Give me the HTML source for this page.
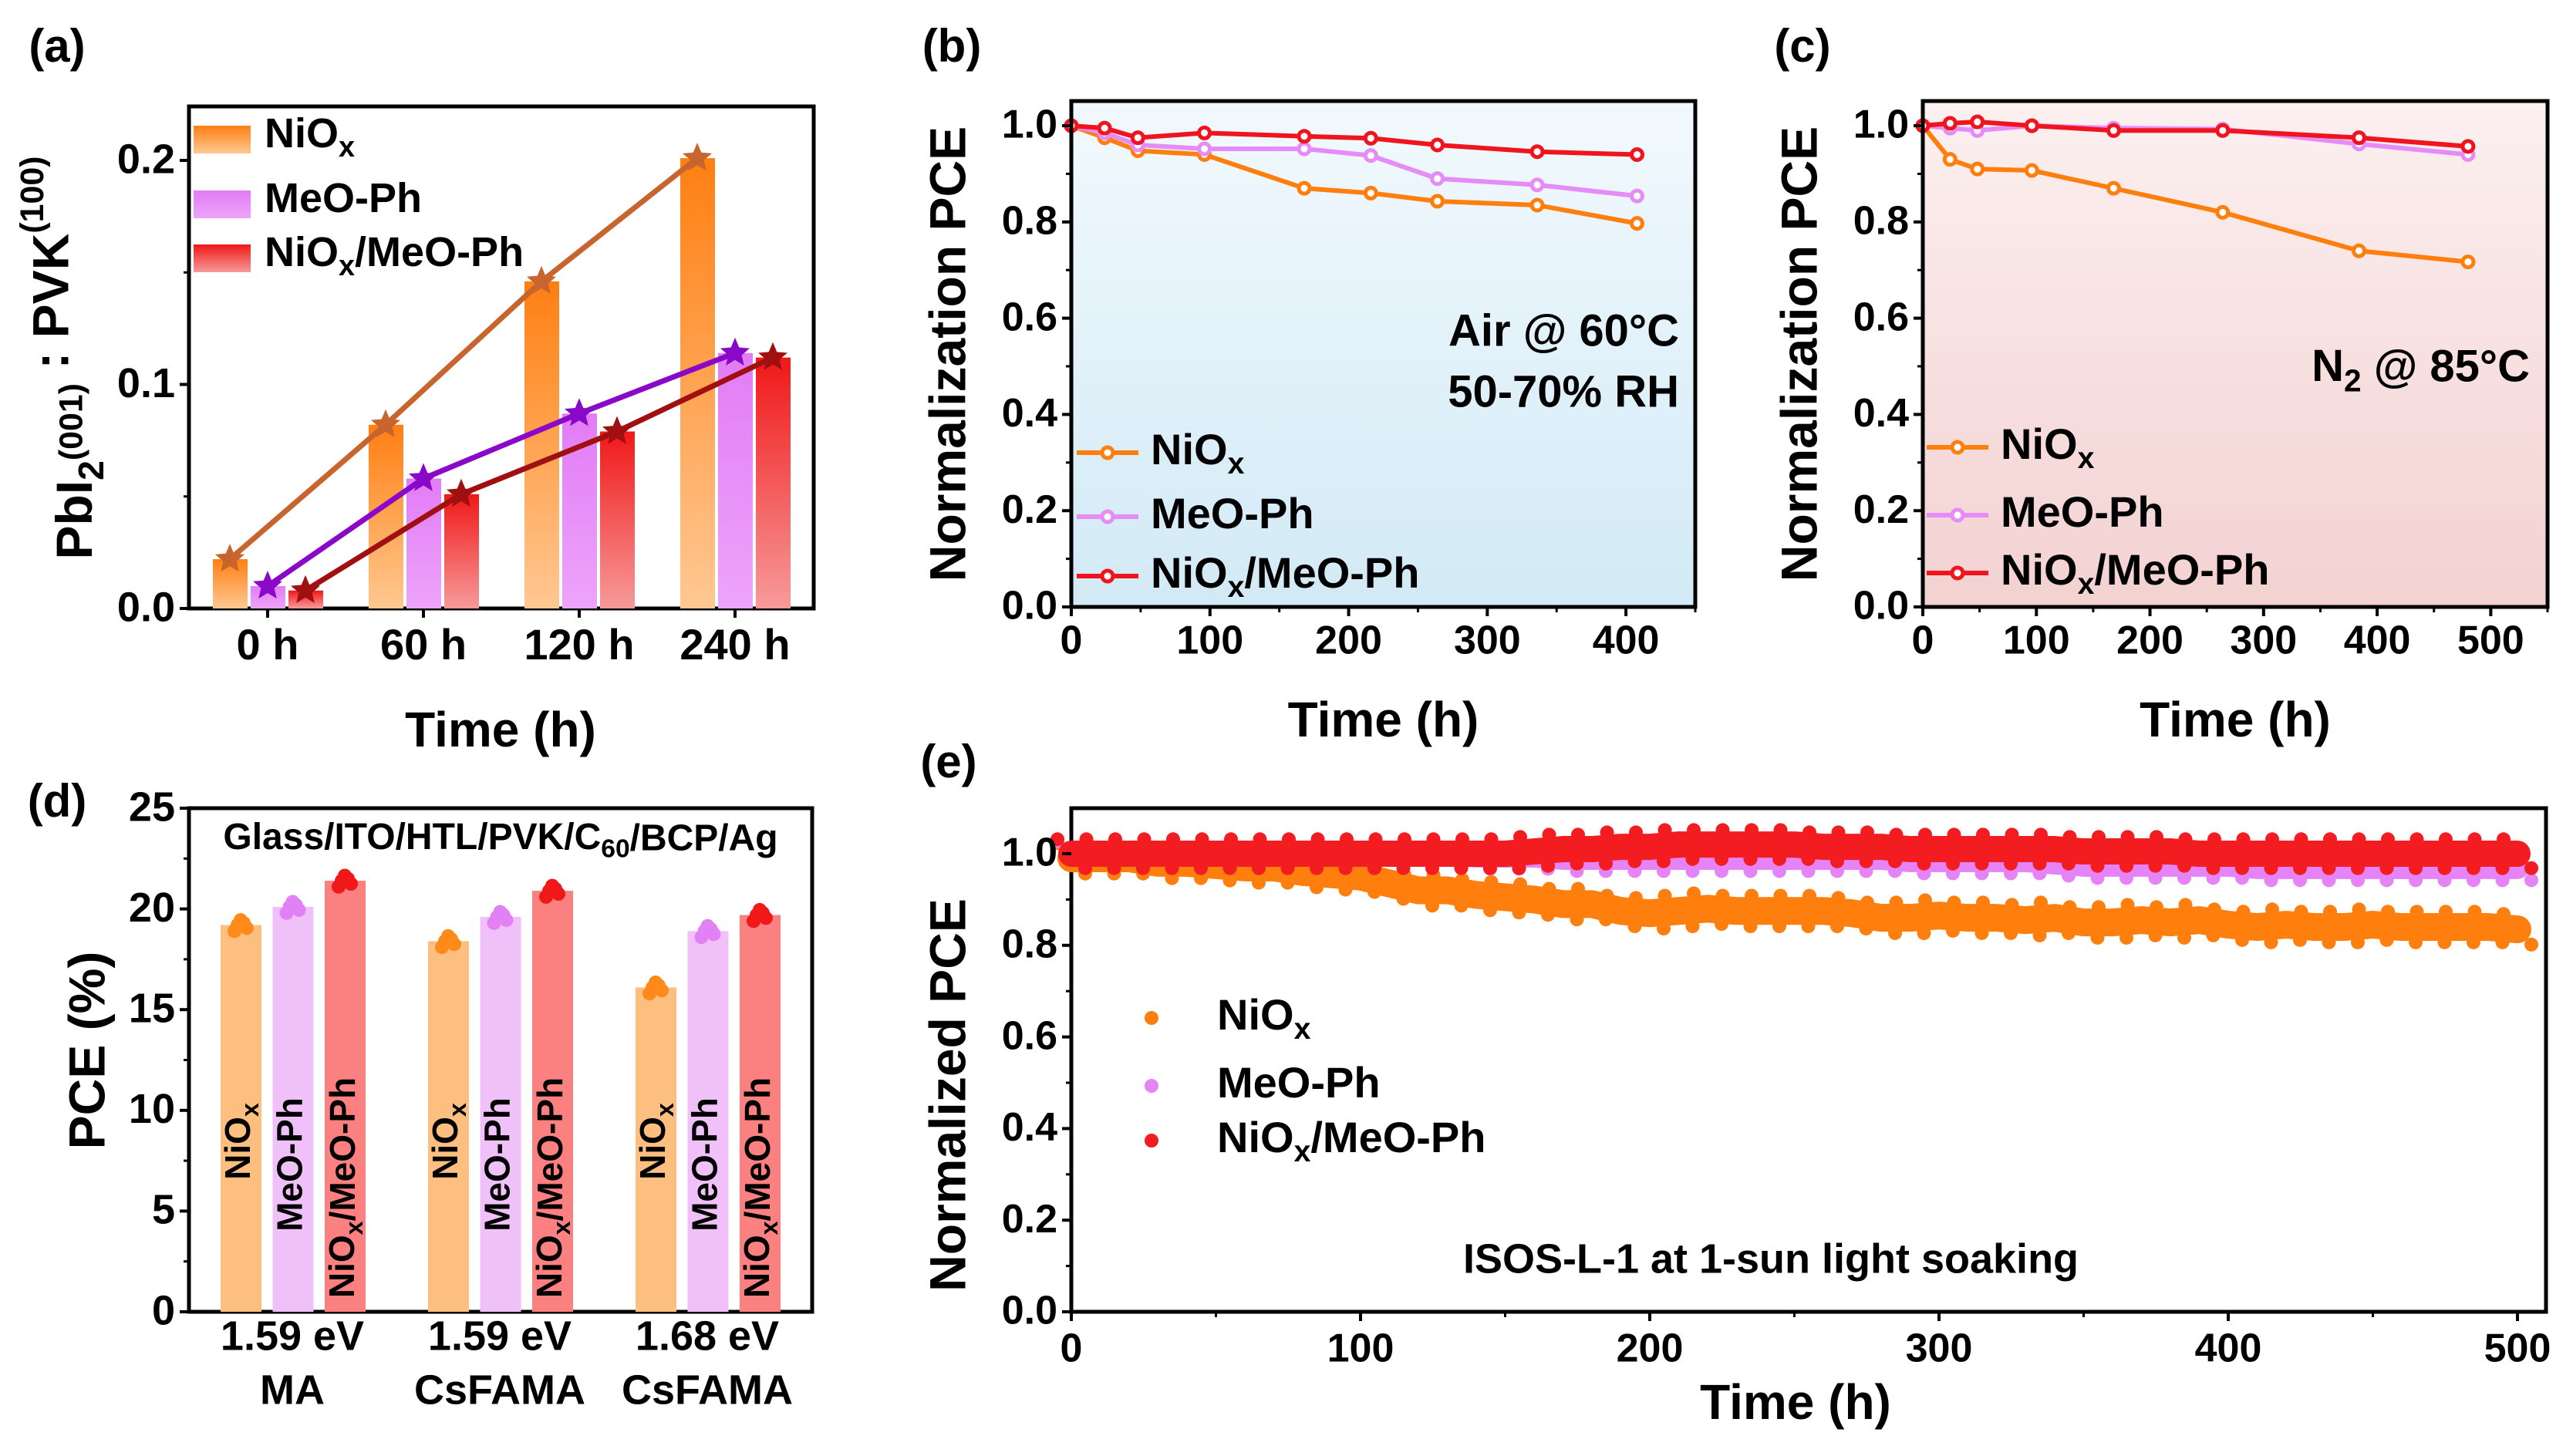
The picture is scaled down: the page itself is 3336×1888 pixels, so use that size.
<!DOCTYPE html>
<html><head><meta charset="utf-8">
<style>
html,body{margin:0;padding:0;background:#fff;}
svg{display:block;font-family:"Liberation Sans Narrow","Liberation Sans",sans-serif;font-weight:bold;}
.t{font-family:"Liberation Sans",sans-serif;font-weight:bold;}
</style></head>
<body>
<svg id="fig" width="3336" height="1888" viewBox="0 0 3336 1888" xmlns="http://www.w3.org/2000/svg">
<defs>
<linearGradient id="gO" x1="0" y1="0" x2="0" y2="1"><stop offset="0" stop-color="#ff7f12"/><stop offset="1" stop-color="#ffc892"/></linearGradient>
<linearGradient id="gP" x1="0" y1="0" x2="0" y2="1"><stop offset="0" stop-color="#e27cf6"/><stop offset="1" stop-color="#eda4fa"/></linearGradient>
<linearGradient id="gR" x1="0" y1="0" x2="0" y2="1"><stop offset="0" stop-color="#f01818"/><stop offset="1" stop-color="#f79a9a"/></linearGradient>
<linearGradient id="gB" x1="0" y1="0" x2="0" y2="1"><stop offset="0" stop-color="#f2f9fd"/><stop offset="1" stop-color="#d2eaf6"/></linearGradient>
<linearGradient id="gC" x1="0" y1="0" x2="0" y2="1"><stop offset="0" stop-color="#fcf0f0"/><stop offset="1" stop-color="#f3d1d1"/></linearGradient>
</defs>
<g id="root"></g>
</svg>
<script>
// ---------- data ----------
const aCategories = ["0 h","60 h","120 h","240 h"];
const aNiOx = [0.022,0.082,0.146,0.201];
const aMeO = [0.010,0.058,0.087,0.114];
const aBoth = [0.008,0.051,0.079,0.112];
const aTicks = [0.0,0.1,0.2];

const bTimeNiOx = [0,24,48,96,168,216,264,336,408];
const bNiOx = [1,0.975,0.948,0.94,0.87,0.86,0.843,0.835,0.797];
const bMeO = [1,0.985,0.96,0.952,0.952,0.938,0.89,0.877,0.854];
const bBoth = [1,0.995,0.975,0.985,0.978,0.974,0.96,0.946,0.94];
const bXTicks = [0,100,200,300,400];

const cTime = [0,24,48,96,168,264,384,480];
const cNiOx = [1,0.93,0.91,0.907,0.87,0.82,0.74,0.717];
const cMeO = [1,0.995,0.99,1.0,0.995,0.993,0.962,0.94];
const cBoth = [1,1.005,1.008,1.0,0.99,0.99,0.975,0.957];
const cXTicks = [0,100,200,300,400,500];
const pceTicks = [0.0,0.2,0.4,0.6,0.8,1.0];

const dGroups = ["1.59 eV|MA","1.59 eV|CsFAMA","1.68 eV|CsFAMA"];
const dNiOx = [19.2,18.4,16.1];
const dMeO = [20.1,19.6,18.9];
const dBoth = [21.4,20.9,19.7];
const dTicks = [0,5,10,15,20,25];

const eTime = [0,10,20,30,40,50,60,70,80,90,100,110,120,130,140,150,160,170,180,190,200,210,220,230,240,250,260,270,280,290,300,310,320,330,340,350,360,370,380,390,400,410,420,430,440,450,460,470,480,490,500];
const eNiOx = [0.99,0.99,0.99,0.98,0.98,0.975,0.97,0.97,0.96,0.955,0.95,0.935,0.92,0.92,0.91,0.905,0.9,0.89,0.89,0.875,0.87,0.875,0.88,0.875,0.875,0.875,0.875,0.87,0.86,0.86,0.865,0.86,0.86,0.855,0.86,0.85,0.85,0.855,0.85,0.855,0.845,0.84,0.845,0.84,0.84,0.845,0.84,0.84,0.84,0.84,0.835];
const eMeO = [1.0,1.0,1.0,1.0,1.0,1.0,1.0,1.0,1.0,1.0,1.0,1.0,1.0,1.0,0.995,0.995,0.995,0.99,0.99,0.99,0.99,0.99,0.99,0.99,0.99,0.99,0.99,0.99,0.99,0.985,0.985,0.985,0.985,0.985,0.98,0.975,0.975,0.975,0.975,0.975,0.975,0.97,0.97,0.97,0.97,0.97,0.97,0.97,0.97,0.97,0.97];
const eBoth = [1.0,1.0,1.0,1.0,1.0,1.0,1.0,1.0,1.0,1.0,1.0,1.0,1.0,1.0,1.0,1.0,1.005,1.01,1.01,1.015,1.015,1.02,1.02,1.02,1.02,1.02,1.015,1.015,1.015,1.01,1.01,1.01,1.01,1.01,1.01,1.005,1.005,1.005,1.005,1.0,1.0,1.0,1.0,1.0,1.0,1.0,1.0,1.0,1.0,1.0,1.0];
const eXTicks = [0,100,200,300,400,500];

// ---------- helpers ----------
const NS="http://www.w3.org/2000/svg";
const root=document.getElementById('root');
function mk(tag,attrs,parent){const e=document.createElementNS(NS,tag);for(const k in attrs)e.setAttribute(k,attrs[k]);(parent||root).appendChild(e);return e;}
function lin(d0,d1,r0,r1){return v=>r0+(v-d0)*(r1-r0)/(d1-d0);}
function txt(x,y,s,size,anchor,cls,name,parent){
  const t=mk('text',{x:x,y:y,'font-size':size,'text-anchor':anchor||'middle','dominant-baseline':'middle'},parent);
  if(cls)t.setAttribute('class',cls);
  t.textContent=s;
  
  
  return t;}
function subTxt(x,y,parts,size,anchor,name,rot){
  const t=mk('text',{x:x,y:y,'font-size':size,'text-anchor':anchor||'start','dominant-baseline':'middle'});
  if(rot)t.setAttribute('transform',rot);
  parts.forEach(p=>{const s=mk('tspan',{},t);s.textContent=p[0];
    if(p[1]==='sub'){s.setAttribute('font-size',size*0.7);s.setAttribute('dy',size*0.3);}
    if(p[1]==='sup'){s.setAttribute('font-size',size*0.65);s.setAttribute('dy',-size*0.4);}
    if(p[1]==='back'){s.setAttribute('dy',p[2]);}
  });
  
  
  return t;}
function frame(x0,y0,x1,y1,fill,name){
  const r=mk('rect',{x:x0,y:y0,width:x1-x0,height:y1-y0,fill:fill||'none',stroke:'#000','stroke-width':5});
  
  
  return r;}
function yTicks(x0,ticks,sy,fmt,size,name,minor){
  ticks.forEach(v=>{const l=mk('line',{x1:x0-12,x2:x0,y1:sy(v),y2:sy(v),stroke:'#000','stroke-width':4});
    
    
    txt(x0-18,sy(v)+2,fmt(v),size,'end',null,name+'-label');});
  if(minor)minor.forEach(v=>{const l=mk('line',{x1:x0-7,x2:x0,y1:sy(v),y2:sy(v),stroke:'#000','stroke-width':3});
    
    });}
function xTicks(y0,ticks,sx,size,name,ly,minor){
  ticks.forEach(v=>{const l=mk('line',{x1:sx(v),x2:sx(v),y1:y0,y2:y0+12,stroke:'#000','stroke-width':4});
    
    
    txt(sx(v),ly,String(v),size,'middle',null,name+'-label');});
  if(minor)minor.forEach(v=>{const l=mk('line',{x1:sx(v),x2:sx(v),y1:y0,y2:y0+7,stroke:'#000','stroke-width':3});
    
    });}
function star(cx,cy,r,fill){let p=[];for(let i=0;i<10;i++){const a=-Math.PI/2+i*Math.PI/5;const rr=i%2?r*0.45:r;p.push((cx+rr*Math.cos(a)).toFixed(1)+','+(cy+rr*Math.sin(a)).toFixed(1));}
  const s=mk('polygon',{points:p.join(' '),fill:fill});
  
  
  return s;}

// ---------- Panel a ----------
(function(){
  const x0=245,x1=1055,y0=138,y1=789;
  const sy=lin(0,0.2,789,208);
  const cx=i=>347+i*202;
  frame(x0,y0,x1,y1,'#fff','panel-a-frame');
  const series=[[aNiOx,'url(#gO)','#c8642d',-49,'nio'],[aMeO,'url(#gP)','#8a08c8',0,'meo'],[aBoth,'url(#gR)','#a01010',49,'both']];
  series.forEach(s=>{
    s[0].forEach((v,i)=>{const b=mk('rect',{x:cx(i)+s[3]-22,y:sy(v),width:45,height:sy(0)-sy(v),fill:s[1]});
      
      });
  });
  series.forEach(s=>{
    const pts=s[0].map((v,i)=>(cx(i)+s[3])+','+sy(v)).join(' ');
    const pl=mk('polyline',{points:pts,fill:'none',stroke:s[2],'stroke-width':7});
    
    
    s[0].forEach((v,i)=>star(cx(i)+s[3],sy(v),20,s[2]));
  });
  yTicks(x0,aTicks,sy,v=>v.toFixed(1),54,'a-y',[0.05,0.15]);
  aCategories.forEach((c,i)=>{const l=mk('line',{x1:cx(i),x2:cx(i),y1:y1,y2:y1+12,stroke:'#000','stroke-width':4});
    
    
    txt(cx(i),840,c,56,'middle',null,'a-x-label');});
  // legend
  [['url(#gO)',163,[['NiO'],['x','sub']]],['url(#gP)',247,[['MeO-Ph']]],['url(#gR)',317,[['NiO'],['x','sub'],['/MeO-Ph','back',-16]]]].forEach((L,i)=>{
    const r=mk('rect',{x:251,y:L[1],width:74,height:36,fill:L[0]});
    
    
    subTxt(343,L[1]+14,L[2],54,'start','legend-a-entry-'+i);
  });
  txt(74,64,'(a)',60,'middle',null,'panel-a-label');
  txt(649,951,'Time (h)',64,'middle','t','a-x-axis-title');
  subTxt(102,464,[['PbI'],['2','sub'],['(001)','sup'],[' : PVK','back',-24],['(100)','sup']],66,'middle','a-y-axis-title','rotate(-90 102 464)').setAttribute('class','t');
})();

// ---------- line panel helper ----------
function linePanel(p){
  const sx=lin(p.xd[0],p.xd[1],p.x0,p.x1), sy=lin(0,1,787,163);
  frame(p.x0,131,p.x1,787,p.bg,p.id+'-frame');
  p.series.forEach(s=>{
    const pts=s.t.map((t,i)=>sx(t)+','+sy(s.v[i])).join(' ');
    const pl=mk('polyline',{points:pts,fill:'none',stroke:s.c,'stroke-width':6});
    
    
    s.t.forEach((t,i)=>{const c=mk('circle',{cx:sx(t),cy:sy(s.v[i]),r:7,fill:'#fff',stroke:s.c,'stroke-width':5});
      
      });
  });
  frame(p.x0,131,p.x1,787,'none',p.id+'-frame-border');
  yTicks(p.x0,pceTicks,sy,v=>v.toFixed(1),52,p.id+'-y',[0.1,0.3,0.5,0.7,0.9]);
  xTicks(787,p.xt,sx,52,p.id+'-x',834,p.minor);
  p.series.forEach((s,i)=>{
    const ly=p.ly[i];
    const l=mk('line',{x1:p.lx,x2:p.lx+80,y1:ly,y2:ly,stroke:s.c,'stroke-width':6});
    
    
    const c=mk('circle',{cx:p.lx+40,cy:ly,r:7,fill:'#fff',stroke:s.c,'stroke-width':5});
    
    
    subTxt(p.lx+96,ly,s.lab,56,'start',p.id+'-legend-entry-'+s.n);
  });
  txt(p.lab[0],64,p.lab[1],60,'middle',null,p.id+'-label');
  txt((p.x0+p.x1)/2,938,'Time (h)',64,'middle','t',p.id+'-x-axis-title');
  const yt=txt(p.x0-155,459,'Normalization PCE',66,'middle','t',p.id+'-y-axis-title');
  yt.setAttribute('transform','rotate(-90 '+(p.x0-155)+' 459)');
}
const L1=[['NiO'],['x','sub']],L2=[['MeO-Ph']],L3=[['NiO'],['x','sub'],['/MeO-Ph','back',-17]];
linePanel({id:'panel-b',x0:1389,x1:2198,xd:[0,450],bg:'url(#gB)',xt:bXTicks,minor:[50,150,250,350,450],
  series:[{t:bTimeNiOx,v:bNiOx,c:'#ff7f0e',n:'nio',lab:L1},{t:bTimeNiOx,v:bMeO,c:'#e58cf7',n:'meo',lab:L2},{t:bTimeNiOx,v:bBoth,c:'#f0141e',n:'both',lab:L3}],
  lx:1396,ly:[587,670,747],lab:[1234,'(b)']});
txt(2177,433,'Air @ 60°C',58,'end',null,'panel-b-condition');
txt(2177,512,'50-70% RH',58,'end',null,'panel-b-humidity');
linePanel({id:'panel-c',x0:2493,x1:3303,xd:[0,550],bg:'url(#gC)',xt:cXTicks,minor:[50,150,250,350,450,550],
  series:[{t:cTime,v:cNiOx,c:'#ff7f0e',n:'nio',lab:L1},{t:cTime,v:cMeO,c:'#e58cf7',n:'meo',lab:L2},{t:cTime,v:cBoth,c:'#f0141e',n:'both',lab:L3}],
  lx:2498,ly:[580,668,743],lab:[2337,'(c)']});
subTxt(3280,479,[['N'],['2','sub'],[' @ 85°C','back',-17]],58,'end','panel-c-condition');

// ---------- Panel d ----------
(function(){
  const x0=245,x1=1053;
  const sy=lin(0,25,1701,1048);
  frame(x0,1048,x1,1701,'#fff','panel-d-frame');
  const cols=[['#fdbf80','#ff8a1a','nio',[['NiO'],['x','sub']],dNiOx],['#f0c0f8','#e280f5','meo',[['MeO-Ph']],dMeO],['#fb8080','#f01818','both',[['NiO'],['x','sub'],['/MeO-Ph','back',-13]],dBoth]];
  dGroups.forEach((g,gi)=>{
    cols.forEach((c,ci)=>{
      const cx=312+gi*269+ci*67.5, v=c[4][gi];
      const b=mk('rect',{x:cx-26,y:sy(v),width:53,height:sy(0)-sy(v),fill:c[0]});
      
      
      [-0.3,0,0.25,0.1,-0.15].forEach((dv,k)=>{const d=mk('circle',{cx:cx-8+k*4,cy:sy(v+dv),r:9,fill:c[1]});
        
        });
      const ty=ci===0?1480:(ci===1?1510:1540);
      const lab=subTxt(cx,ty,c[3],46,'middle','d-bar-label','rotate(-90 '+cx+' '+ty+')');
      lab.setAttribute('class','t');
    });
    const parts=g.split('|'), gx=379+gi*269;
    txt(gx,1736,parts[0],54,'middle',null,'d-x-label');
    txt(gx,1806,parts[1],54,'middle',null,'d-x-label-2');
  });
  yTicks(x0,dTicks,sy,v=>String(v),54,'d-y',[2.5,7.5,12.5,17.5,22.5]);
  subTxt(649,1088,[['Glass/ITO/HTL/PVK/C'],['60','sub'],['/BCP/Ag','back',-13]],48,'middle','d-device-structure');
  txt(74,1043,'(d)',60,'middle',null,'panel-d-label');
  const yt=txt(118,1362,'PCE (%)',66,'middle','t','d-y-axis-title');
  yt.setAttribute('transform','rotate(-90 118 1362)');
})();

// ---------- Panel e ----------
(function(){
  const x0=1389,x1=3301;
  const sx=lin(0,500,1389,3264), sy=lin(0,1,1701,1107);
  frame(x0,1048,x1,1701,'#fff','panel-e-frame');
  [[eNiOx,'#ff7f0e','nio',36],[eMeO,'#e583f7','meo',30],[eBoth,'#f31c20','both',34]].forEach(s=>{
    const pts=eTime.map((t,i)=>sx(t)+','+sy(s[0][i])).join(' ');
    const pl=mk('polyline',{points:pts,fill:'none',stroke:s[1],'stroke-width':s[3],'stroke-linejoin':'round','stroke-linecap':'round'});
    
    
    eTime.forEach((t,i)=>{[-1,1].forEach(k=>{const c=mk('circle',{cx:sx(t)+k*18,cy:sy(s[0][i])+k*s[3]*0.55,r:9,fill:s[1]});
      
      });});
  });
  yTicks(x0,pceTicks,sy,v=>v.toFixed(1),52,'e-y',[0.1,0.3,0.5,0.7,0.9]);
  xTicks(1701,eXTicks,sx,52,'e-x',1752,[50,150,250,350,450]);
  [['#ff7f0e',1320,L1],['#e583f7',1408,L2],['#f31c20',1479,L3]].forEach((L,i)=>{
    const c=mk('circle',{cx:1493,cy:L[1],r:9,fill:L[0]});
    
    
    subTxt(1578,L[1],L[2],56,'start','e-legend-entry-'+i);
  });
  txt(2296,1636,'ISOS-L-1 at 1-sun light soaking',54,'middle',null,'e-annotation');
  txt(1230,992,'(e)',60,'middle',null,'panel-e-label');
  txt(2328,1823,'Time (h)',64,'middle','t','e-x-axis-title');
  const yt=txt(1234,1420,'Normalized PCE',66,'middle','t','e-y-axis-title');
  yt.setAttribute('transform','rotate(-90 1234 1420)');
})();
</script>
</body></html>
